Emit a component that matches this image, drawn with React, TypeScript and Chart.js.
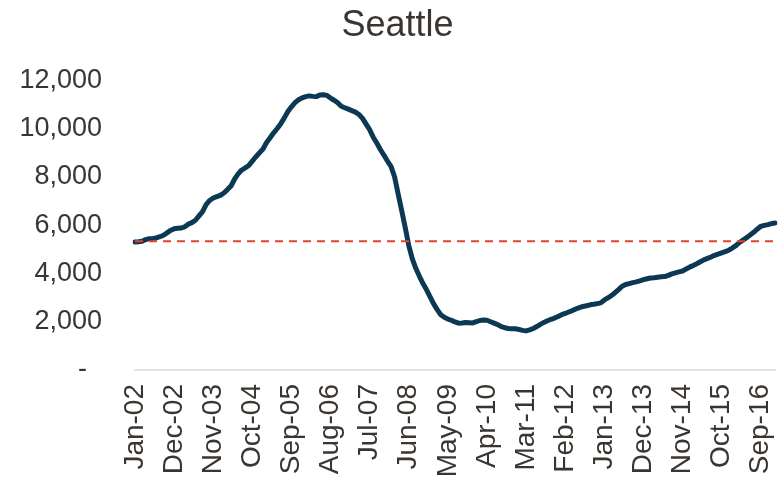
import React, { useEffect, useRef } from "react";
import { Chart, registerables } from "chart.js";

Chart.register(...registerables);

const TITLE = "Seattle";
const MONTHS = ["Jan", "Feb", "Mar", "Apr", "May", "Jun", "Jul", "Aug", "Sep", "Oct", "Nov", "Dec"];
const START_YEAR = 2002;
const LABEL_EVERY = 11;
const AVERAGE = 5330;

// Monthly values, Jan-02 .. Jan-17
const values: number[] = [
  5300, 5310, 5330, 5400, 5440, 5450, 5470, 5520, 5580, 5680, 5780, 5850,
  5870, 5880, 5930, 6040, 6100, 6200, 6380, 6560, 6850, 7020, 7120, 7180,
  7230, 7330, 7470, 7620, 7900, 8120, 8280, 8370, 8470, 8650, 8830, 8990,
  9150, 9420, 9620, 9820, 10000, 10200, 10440, 10700, 10900, 11070, 11190, 11270,
  11320, 11350, 11330, 11320, 11390, 11400, 11370, 11260, 11170, 11070, 10920, 10860,
  10800, 10740, 10680, 10580, 10420, 10180, 9950, 9640, 9400, 9130, 8900, 8650,
  8430, 8000, 7300, 6600, 5900, 5150, 4600, 4200, 3880, 3580, 3320, 3030,
  2740, 2500, 2290, 2180, 2110, 2060, 1990, 1940, 1950, 1970, 1960, 1950,
  2000, 2050, 2070, 2060, 2000, 1940, 1880, 1800, 1750, 1720, 1710, 1710,
  1680, 1640, 1620, 1660, 1720, 1800, 1890, 1970, 2040, 2100, 2150, 2220,
  2290, 2340, 2400, 2460, 2530, 2580, 2630, 2660, 2700, 2720, 2750, 2780,
  2900, 2990, 3080, 3200, 3330, 3470, 3540, 3580, 3620, 3650, 3690, 3740,
  3780, 3810, 3820, 3840, 3860, 3870, 3920, 3980, 4020, 4060, 4100, 4180,
  4260, 4330, 4400, 4480, 4560, 4620, 4680, 4750, 4800, 4850, 4900, 4960,
  5050, 5150, 5280, 5380, 5480, 5590, 5700, 5830, 5950, 5990, 6020, 6060,
  6090,
];

const labels: string[] = values.map((_, i) => {
  const m = MONTHS[i % 12];
  const y = (START_YEAR + Math.floor(i / 12)) % 100;
  return `${m}-${String(y).padStart(2, "0")}`;
});

const averageLine: number[] = labels.map(() => AVERAGE);

const TEXT = "#3a3530";
const FONT = "'Liberation Sans', Arial, sans-serif";

export default function App() {
  const ref = useRef<HTMLCanvasElement | null>(null);

  useEffect(() => {
    if (!ref.current) return;
    const chart = new Chart(ref.current, {
      type: "line",
      data: {
        labels,
        datasets: [
          {
            data: averageLine,
            borderColor: "#e0442c",
            borderWidth: 2,
            borderDash: [8, 6],
            pointRadius: 0,
            fill: false,
          },
          {
            data: values,
            borderColor: "#0b3954",
            borderWidth: 5,
            pointRadius: 0,
            fill: false,
            borderCapStyle: "round",
            borderJoinStyle: "round",
          },
        ],
      },
      options: {
        animation: false,
        responsive: false,
        maintainAspectRatio: false,
        layout: { padding: { left: 20, right: 5, top: 0, bottom: 0 } },
        plugins: {
          legend: { display: false },
          tooltip: { enabled: false },
          title: {
            display: true,
            text: TITLE,
            color: TEXT,
            font: { family: FONT, size: 36, weight: "normal" },
            padding: { top: 4, bottom: 33 },
          },
        },
        scales: {
          x: {
            offset: false,
            grid: { display: false, drawTicks: false },
            border: { display: true, color: "#e6e1dc", width: 2 },
            ticks: {
              autoSkip: false,
              minRotation: 90,
              maxRotation: 90,
              padding: 14,
              color: TEXT,
              font: { family: FONT, size: 28 },
              callback: (_v: any, i: number) => (i % LABEL_EVERY === 0 ? labels[i] : ""),
            },
            afterFit: (s: any) => {
              s.height = 109;
              s.paddingLeft = 0;
              s.paddingRight = 0;
            },
          },
          y: {
            min: 0,
            max: 12000,
            grid: { display: false, drawTicks: false },
            border: { display: false },
            ticks: {
              stepSize: 2000,
              padding: 33,
              color: TEXT,
              font: { family: FONT, size: 27 },
              callback: (v: any) => (Number(v) === 0 ? "-  " : Number(v).toLocaleString("en-US")),
            },
            afterFit: (s: any) => {
              s.width = 115;
            },
          },
        },
      },
    });
    return () => chart.destroy();
  }, []);

  return (
    <div style={{ position: "absolute", left: 0, top: 0, width: 780, height: 479, background: "#fff" }}>
      <canvas ref={ref} width={780} height={479} style={{ width: 780, height: 479 }} />
    </div>
  );
}
